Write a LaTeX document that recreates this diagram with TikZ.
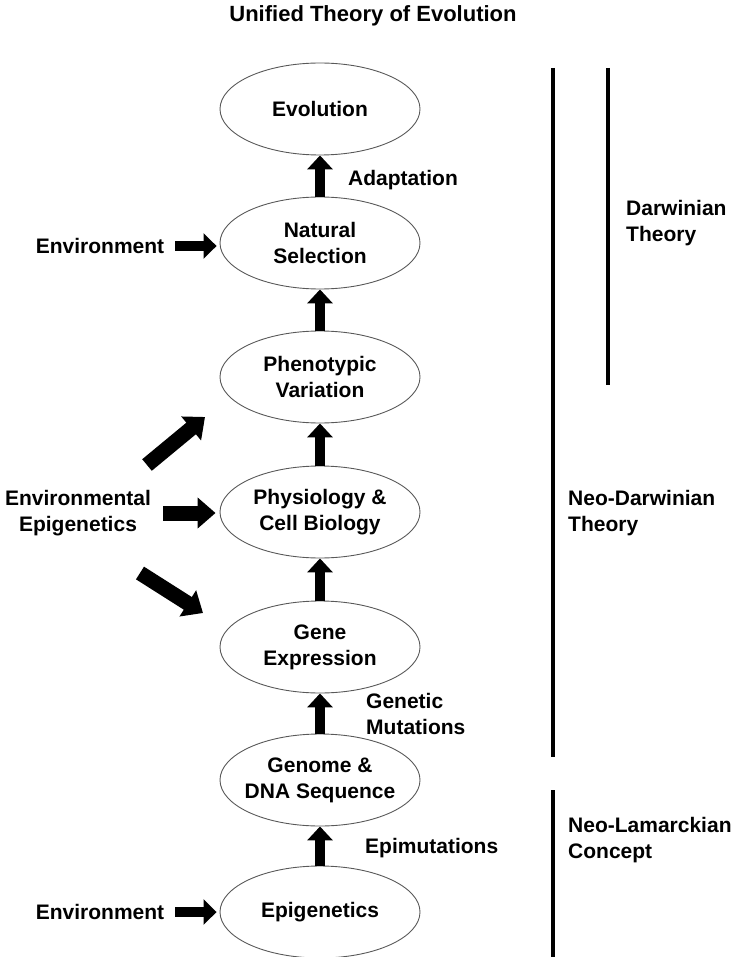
\documentclass[tikz,border=0pt]{standalone}
\usepackage{fontspec}
\setmainfont{Liberation Sans}
\usetikzlibrary{shapes.geometric,arrows.meta}
\begin{document}
\begin{tikzpicture}[x=1pt,y=-1pt,
  every node/.style={font=\fontsize{21}{26}\selectfont\bfseries, inner sep=0pt},
  oval/.style={ellipse, draw=black!65, line width=0.9pt, minimum width=200pt, minimum height=92pt, align=center},
  lbl/.style={anchor=west, align=left},
  uparrow/.style={line width=10.5pt, -{Triangle[width=25pt,length=14pt]}},
  sidearrow/.style={line width=10pt, -{Triangle[width=25pt,length=13pt]}},
  diagarrow/.style={line width=15pt, -{Triangle[width=30pt,length=18pt]}},
  bar/.style={line width=4pt}]
\useasboundingbox (0,0) rectangle (745,957);
\node (title) at (373,16) {\fontsize{22}{26}\selectfont Unified Theory of Evolution};

\node[oval] (evo) at (320,109) {Evolution};
\node[oval] (ns)  at (320,243) {Natural\\Selection};
\node[oval] (pv)  at (320,377) {Phenotypic\\Variation};
\node[oval] (pcb) at (320,512) {Physiology \&\\Cell Biology};
\node[oval] (ge)  at (320,647) {Gene\\Expression};
\node[oval, inner xsep=-8pt] (gds) at (320,780) {Genome \&\\DNA Sequence};
\node[oval] (epi) at (320,912) {Epigenetics};

\draw[uparrow] (ns.north) -- (evo.south);
\draw[uparrow] (pv.north) -- (ns.south);
\draw[uparrow] (pcb.north) -- (pv.south);
\draw[uparrow] (ge.north) -- (pcb.south);
\draw[uparrow] (gds.north) -- (ge.south);
\draw[uparrow] (epi.north) -- (gds.south);

\node[lbl] (adapt) at (348,180) {Adaptation};
\node[lbl] (gm) at (366,714) {Genetic\\Mutations};
\node[lbl] (epim) at (365,848) {Epimutations};

\node (env1) at (100,246) {Environment};
\node (env2) at (100,912) {Environment};
\draw[sidearrow] ([xshift=11pt]env1.east) -- ([xshift=-3pt]ns.west |- env1.east);
\draw[sidearrow] ([xshift=11pt]env2.east) -- ([xshift=-3pt]epi.west |- env2.east);

\node[align=center] (ee) at (78,513) {Environmental\\Epigenetics};
\coordinate (d1s) at (147,465);
\coordinate (d1e) at (205,417);
\coordinate (d3s) at (140,573);
\coordinate (d3e) at (203,613);
\draw[diagarrow] (d1s) -- (d1e);
\draw[diagarrow] ([xshift=12pt]ee.east) -- ([xshift=-4pt]pcb.west |- ee.east);
\draw[diagarrow] (d3s) -- (d3e);

\coordinate (b1t) at (553,68);
\coordinate (b1b) at (553,757);
\coordinate (b2t) at (608,68);
\coordinate (b2b) at (608,385);
\coordinate (b3t) at (553,790);
\coordinate (b3b) at (553,957);
\draw[bar] (b1t) -- (b1b);
\draw[bar] (b2t) -- (b2b);
\draw[bar] (b3t) -- (b3b);

\node[lbl] (dt) at (626,223) {Darwinian\\Theory};
\node[lbl] (ndt) at (568,513) {Neo-Darwinian\\Theory};
\node[lbl] (nlc) at (568,840) {Neo-Lamarckian\\Concept};
\end{tikzpicture}
\end{document}
